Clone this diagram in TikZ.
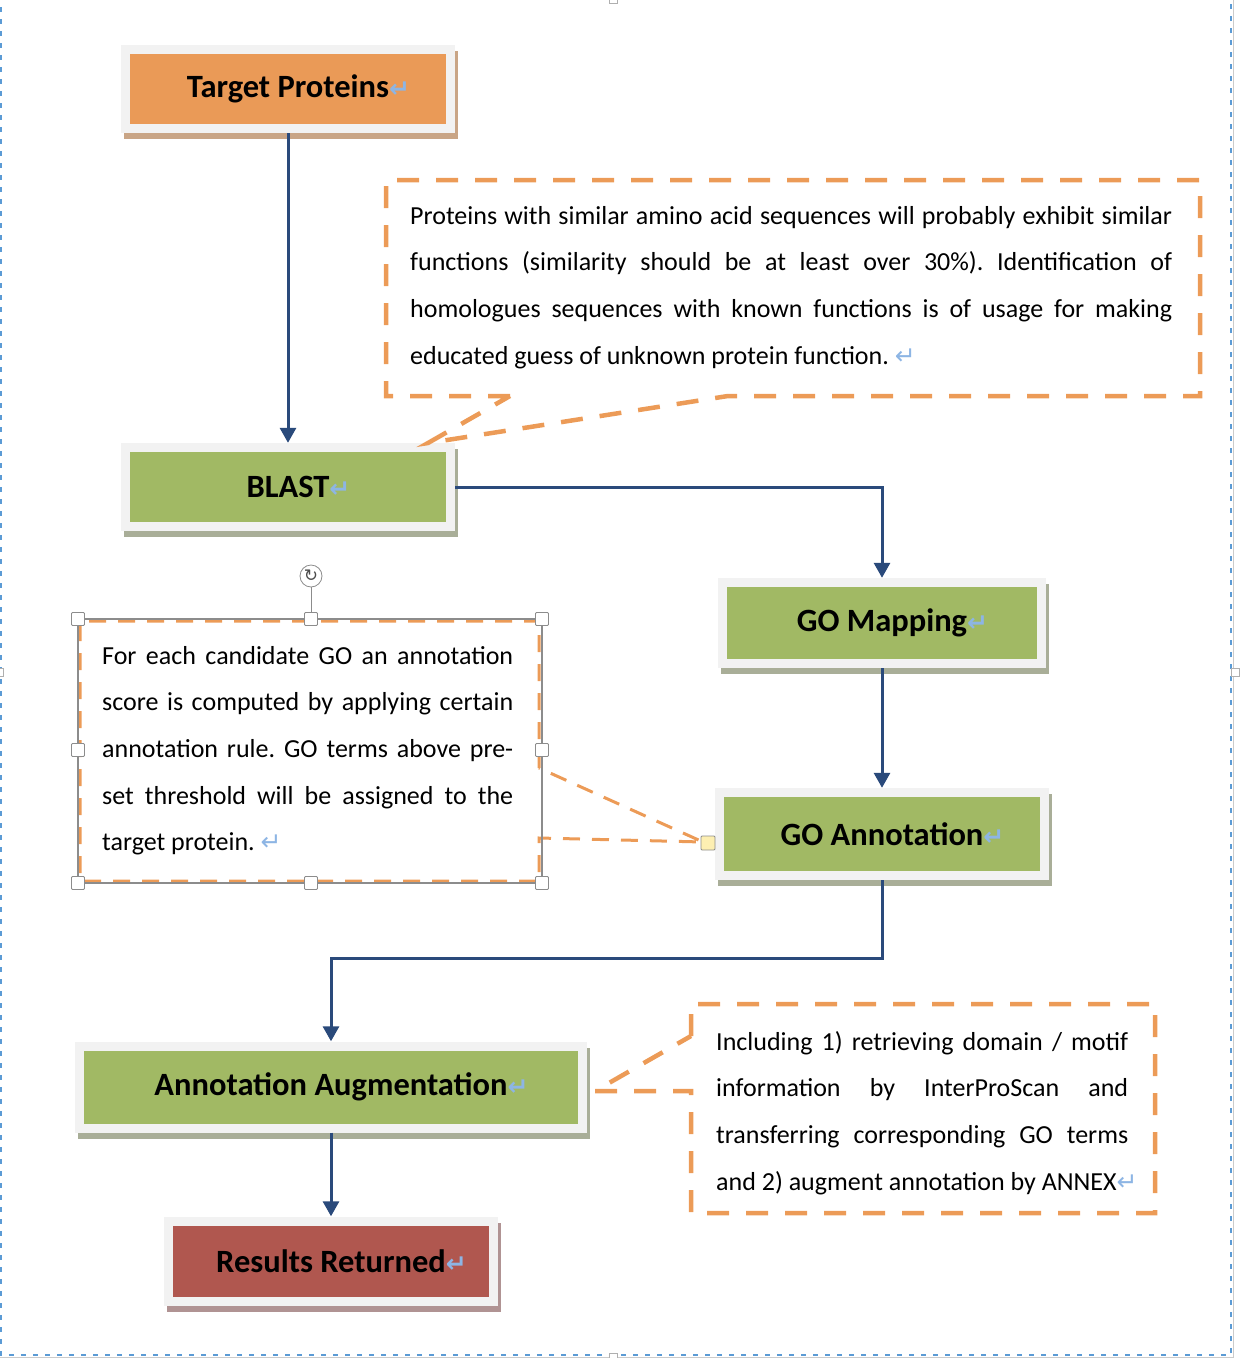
\documentclass[tikz,border=0pt]{standalone}
\usepackage{fontspec}
\setmainfont{Carlito}
\newfontfamily\markfont{DejaVu Sans}
\usetikzlibrary{arrows.meta,shadows}

\definecolor{framegray}{HTML}{F2F2F2}
\definecolor{orangefill}{HTML}{EA9A57}
\definecolor{orangeshadow}{HTML}{C9A586}
\definecolor{greenfill}{HTML}{A1B964}
\definecolor{greenshadow}{HTML}{A9AE98}
\definecolor{redfill}{HTML}{B0574F}
\definecolor{redshadow}{HTML}{B09393}
\definecolor{flowblue}{HTML}{2A4A7B}
\definecolor{noteorange}{HTML}{EC9B57}
\definecolor{selgray}{HTML}{8C8C8C}
\definecolor{markblue}{HTML}{8DB5E4}
\definecolor{pinyellow}{HTML}{FDEFB2}
\definecolor{canvasblue}{HTML}{5B9BD5}

\newcommand{\retmark}{{\markfont\fontsize{25}{25}\selectfont\color{markblue}↵}}
\frenchspacing

\begin{document}
\begin{tikzpicture}[x=1pt,y=-1pt,
  flowbox/.style={fill=framegray,inner sep=0pt,minimum width=334pt,minimum height=88pt,font=\fontsize{32.5}{36}\selectfont\bfseries},
  boxfill/.style={path picture={\fill[#1] ([shift={(9pt,9pt)}]path picture bounding box.south west) rectangle ([shift={(-9pt,-9pt)}]path picture bounding box.north east);}},
  boxshadow/.style={drop shadow={shadow xshift=3pt,shadow yshift=-6pt,fill=#1,opacity=1}},
  flow/.style={draw=flowblue,line width=3pt,-{Triangle[length=15pt,width=16pt]}},
  notetext/.style={anchor=north west,inner sep=0pt,align=left,font=\fontsize{26}{46.6}\selectfont},
  notedash/.style={draw=noteorange,line width=4.5pt,dash pattern=on 22pt off 17pt},
  selnote/.style={draw=noteorange,line width=3pt,dash pattern=on 17pt off 12pt},
  handle/.style={draw=selgray,fill=white,line width=0.8pt,minimum size=13pt,inner sep=0pt,rounded corners=1pt},
  canvashandle/.style={draw=selgray!70,fill=white,line width=0.6pt,minimum size=8pt,inner sep=0pt}]
\useasboundingbox (0,0) rectangle (1240,1358);
% canvas frame
\draw[canvasblue,line width=2pt,dash pattern=on 5pt off 7pt] (1,-5) -- (1,1355) -- (1231,1355) -- (1231,-5);
\draw[selgray!45,line width=1pt] (1233.5,-5) -- (1233.5,1357.5) -- (-5,1357.5);
\node (ctop) [canvashandle] at (613,-1) {};
\node (cbot) [canvashandle] at (613,1357) {};
\node (cleft) [canvashandle] at (-1,672) {};
\node (cright) [canvashandle] at (1235,672) {};
%
\node (tp) [flowbox,boxfill=orangefill,boxshadow=orangeshadow] at (288,89) {Target Proteins\rlap{\retmark}};
\node (blast) [flowbox,boxfill=greenfill,boxshadow=greenshadow] at (288,487) {BLAST\rlap{\retmark}};
\node (gomap) [flowbox,boxfill=greenfill,boxshadow=greenshadow,minimum width=328pt,minimum height=90pt] at (882,623) {GO Mapping\rlap{\retmark}};
\node (goann) [flowbox,boxfill=greenfill,boxshadow=greenshadow,minimum height=92pt] at (882,834) {GO Annotation\rlap{\retmark}};
\node (aug) [flowbox,boxfill=greenfill,boxshadow=greenshadow,minimum width=512pt,minimum height=91pt] at (331,1087) {Annotation Augmentation\rlap{\retmark}};
\node (res) [flowbox,boxfill=redfill,boxshadow=redshadow,minimum height=89pt] at (331,1261) {Results Returned\rlap{\retmark}};
%
\coordinate (turn) at (882,958);
\draw[flow] (tp) -- (blast);
\draw[flow] (blast) -| (gomap);
\draw[flow] (gomap) -- (goann);
\draw[flow] (goann) -- (turn) -| (aug);
\draw[flow] (aug) -- (res);
% note on BLAST
\coordinate (tip1) at (428,443);
\draw[notedash] (510,396) -- (386,396) -- (386,180) -- (1200,180) -- (1200,396) -- (728,396) -- (tip1) -- cycle;
\node (note1) [notetext] at (410,204) {\rule{0pt}{20pt}\makebox[762pt][s]{Proteins with similar amino acid sequences will probably exhibit similar}\\
  \makebox[762pt][s]{functions (similarity should be at least over 30\%). Identification of}\\
  \makebox[762pt][s]{homologues sequences with known functions is of usage for making}\\
  educated guess of unknown protein function. \retmark};
% note on GO Annotation
\coordinate (tip2) at (703,842);
\draw[selnote] (539,768) -- (539,621) -- (80,621) -- (80,881) -- (539,881) -- (539,838) -- (tip2) -- cycle;
\node (sel) [draw=selgray,line width=1.5pt,minimum width=464pt,minimum height=264pt,inner sep=0pt] at (310,751) {};
\node (note2) [notetext] at (102,644) {\rule{0pt}{20pt}\makebox[411pt][s]{For each candidate GO an annotation}\\
  \makebox[411pt][s]{score is computed by applying certain}\\
  \makebox[411pt][s]{annotation rule. GO terms above pre-}\\
  \makebox[411pt][s]{set threshold will be assigned to the}\\
  target protein. \retmark};
\node (rot) [circle,draw=selgray,fill=white,line width=0.8pt,minimum size=22pt,inner sep=0pt,font=\markfont\fontsize{17}{17}\selectfont,text=black!70] at (311,576) {↻};
\node (h1) [handle] at (78,619) {};
\node (h2) [handle] at (311,619) {};
\node (h3) [handle] at (542,619) {};
\node (h4) [handle] at (78,750) {};
\node (h5) [handle] at (542,750) {};
\node (h6) [handle] at (78,883) {};
\node (h7) [handle] at (311,883) {};
\node (h8) [handle] at (542,883) {};
\draw[selgray,line width=0.8pt] (rot) -- (h2);
\node (pin) [handle,fill=pinyellow,minimum size=14pt] at (708,843) {};
% note on Annotation Augmentation
\coordinate (tip3) at (595,1091);
\draw[notedash] (691,1036) -- (691,1004) -- (1155,1004) -- (1155,1213) -- (691,1213) -- (691,1091) -- (tip3) -- cycle;
\node (note3) [notetext] at (716,1030) {\rule{0pt}{20pt}\makebox[412pt][s]{Including 1) retrieving domain / motif}\\
  \makebox[412pt][s]{information by InterProScan and}\\
  \makebox[412pt][s]{transferring corresponding GO terms}\\
  and 2) augment annotation by ANNEX\retmark};
\end{tikzpicture}
\end{document}
